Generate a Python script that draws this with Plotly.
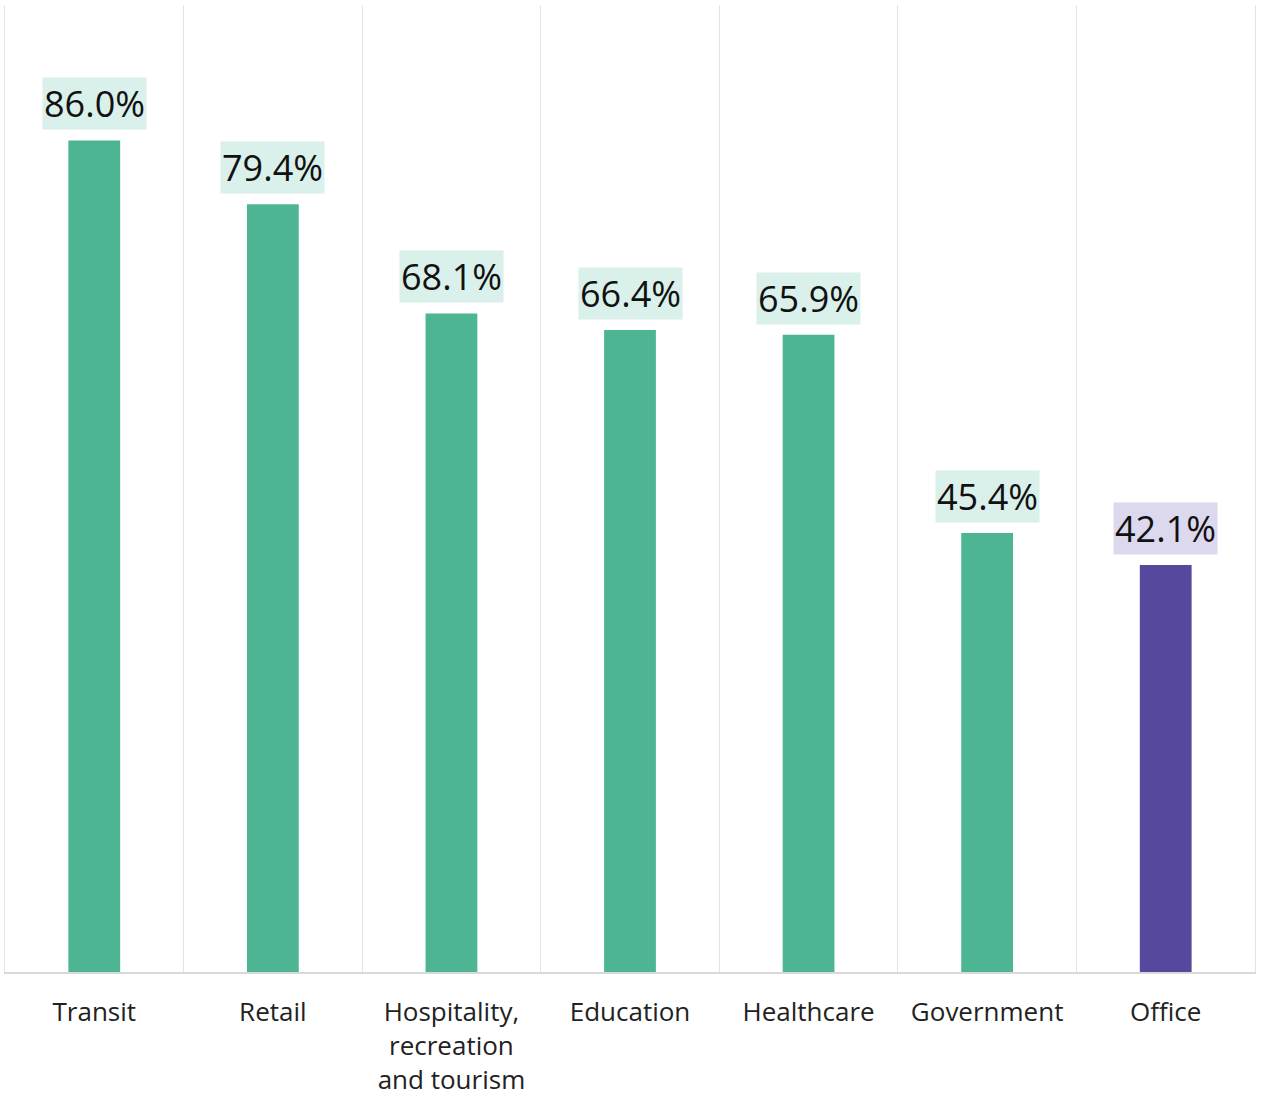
import plotly.graph_objects as go

categories = ["Transit", "Retail", "Hospitality,<br>recreation<br>and tourism",
              "Education", "Healthcare", "Government", "Office"]
values = [86.0, 79.4, 68.1, 66.4, 65.9, 45.4, 42.1]
bar_colors = ["#4db594"] * 6 + ["#56489c"]
label_bg = ["#daf0ea"] * 6 + ["#dcd8ee"]

fig = go.Figure()
fig.add_trace(go.Bar(
    x=categories, y=values,
    marker=dict(color=bar_colors, line=dict(width=0)),
    hoverinfo="skip",
))

for c, v, bg in zip(categories, values, label_bg):
    fig.add_annotation(
        x=c, y=v, text=f"{v:.1f}%", showarrow=False,
        yanchor="bottom", yshift=10,
        bgcolor=bg, borderpad=1,
        font=dict(family="Open Sans", size=36, color="#111111"),
    )

fig.update_layout(
    width=1264, height=1096,
    margin=dict(l=5, r=9, t=5, b=124, autoexpand=False),
    paper_bgcolor="white", plot_bgcolor="white",
    bargap=0.71,
    showlegend=False,
    font=dict(family="Open Sans", color="#222222"),
)
fig.update_xaxes(
    type="category",
    tickson="boundaries",
    showgrid=True, gridcolor="#e3e3e3", gridwidth=1,
    showline=True, linecolor="#d9d9d9", linewidth=2,
    ticks="", ticklabelstandoff=16,
    automargin=False,
    tickfont=dict(family="Open Sans", size=26, color="#222222"),
)
fig.update_yaxes(
    range=[0, 100], showticklabels=False, ticks="", showgrid=False, zeroline=False,
    showline=True, mirror=True, linecolor="#e3e3e3", linewidth=1,
    automargin=False,
)

fig.write_html(
    "out.html",
    config={"displayModeBar": False, "staticPlot": True},
    post_script="document.body.style.margin='0';document.body.style.overflow='hidden';",
)
